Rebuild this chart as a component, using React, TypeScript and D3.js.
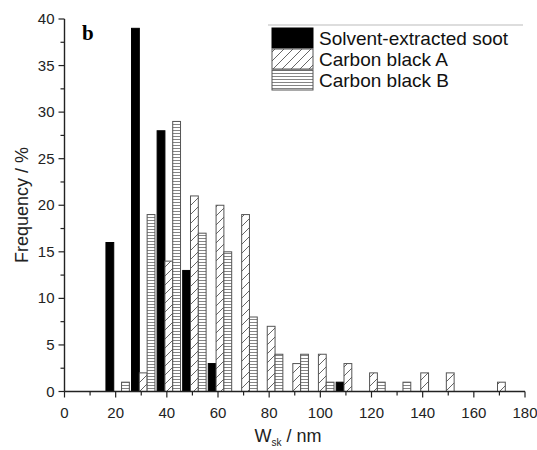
import * as d3 from 'd3'

// bin start (nm) for every group of three bars
const bins = [20, 30, 40, 50, 60, 70, 80, 90, 100, 110, 120, 130, 140, 150, 160, 170]
const sootValues = [16, 39, 28, 13, 3, 0, 0, 0, 0, 1, 0, 0, 0, 0, 0, 0]
const carbonAValues = [0, 2, 14, 21, 20, 19, 7, 3, 4, 3, 2, 0, 2, 2, 0, 1]
const carbonBValues = [1, 19, 29, 17, 15, 8, 4, 4, 1, 0, 1, 1, 0, 0, 0, 0]
const seriesNames = ['Solvent-extracted soot', 'Carbon black A', 'Carbon black B']

const xTicks = [0, 20, 40, 60, 80, 100, 120, 140, 160, 180]
const yTicks = [0, 5, 10, 15, 20, 25, 30, 35, 40]

const width = 537
const height = 450
const sans = '"Liberation Sans", Arial, sans-serif'

const fills = ['#000', 'url(#hatchA)', 'url(#hatchB)']
const strokes = ['#000', '#555', '#555']

export default function App() {
  const x = d3.scaleLinear().domain([0, 180]).range([64.5, 525])
  const y = d3.scaleLinear().domain([0, 40]).range([391.5, 19])

  // bar layout inside a group, in data units
  const barW = 3.05
  const groupStart = -3.8

  const series = [sootValues, carbonAValues, carbonBValues]

  const bars = series.flatMap((vals, si) =>
    bins.map((b, i) => {
      const v = vals[i]
      if (!v) return null
      const x0 = x(b + groupStart + si * barW)
      const x1 = x(b + groupStart + (si + 1) * barW)
      return (
        <rect
          key={`${si}-${b}`}
          x={x0}
          y={y(v)}
          width={x1 - x0}
          height={y(0) - y(v)}
          fill={fills[si]}
          stroke={strokes[si]}
          strokeWidth={1}
        />
      )
    }),
  )

  const xMinor = d3.range(0, 181, 10)
  const yMinor = d3.range(0, 40.1, 2.5)

  return (
    <svg
      width={width}
      height={height}
      style={{ position: 'absolute', left: 0, top: 0, background: '#fff' }}
    >
      <defs>
        <pattern id="hatchA" patternUnits="userSpaceOnUse" width={9} height={9}>
          <rect width={9} height={9} fill="#fff" />
          <path
            d="M0,9 L9,0 M-2,2 L2,-2 M7,11 L11,7"
            stroke="#666"
            strokeWidth={1}
          />
        </pattern>
        <pattern id="hatchB" patternUnits="userSpaceOnUse" width={4} height={3}>
          <rect width={4} height={3} fill="#fff" />
          <path d="M0,1.5 L4,1.5" stroke="#777" strokeWidth={0.9} />
        </pattern>
      </defs>

      {bars}

      {/* x axis */}
      <line x1={x(0)} x2={x(180)} y1={y(0)} y2={y(0)} stroke="#222" strokeWidth={1.4} />
      {xMinor.map((t) => (
        <line
          key={`xt${t}`}
          x1={x(t)}
          x2={x(t)}
          y1={y(0)}
          y2={y(0) + (t % 20 === 0 ? 6 : 4)}
          stroke="#222"
          strokeWidth={1.2}
        />
      ))}
      {xTicks.map((t) => (
        <text
          key={`xl${t}`}
          x={x(t)}
          y={y(0) + 26}
          textAnchor="middle"
          fontFamily={sans}
          fontSize={15}
          fill="#222"
        >
          {t}
        </text>
      ))}

      {/* y axis */}
      <line x1={x(0)} x2={x(0)} y1={y(40)} y2={y(0)} stroke="#222" strokeWidth={1.4} />
      {yMinor.map((t) => (
        <line
          key={`yt${t}`}
          x1={x(0) - (t % 5 === 0 ? 6 : 4)}
          x2={x(0)}
          y1={y(t)}
          y2={y(t)}
          stroke="#222"
          strokeWidth={1.2}
        />
      ))}
      {yTicks.map((t) => (
        <text
          key={`yl${t}`}
          x={x(0) - 10}
          y={y(t) + 5}
          textAnchor="end"
          fontFamily={sans}
          fontSize={15}
          fill="#222"
        >
          {t}
        </text>
      ))}

      {/* axis titles */}
      <text
        x={288}
        y={442}
        textAnchor="middle"
        fontFamily={sans}
        fontSize={18}
        fill="#222"
      >
        W
        <tspan fontSize={10} dy={4}>
          sk
        </tspan>
        <tspan dy={-4}> / nm</tspan>
      </text>
      <text
        transform="translate(28,205) rotate(-90)"
        textAnchor="middle"
        fontFamily={sans}
        fontSize={18}
        fill="#222"
      >
        Frequency / %
      </text>

      {/* panel letter */}
      <text
        x={82}
        y={40}
        fontFamily='"Liberation Serif", "Times New Roman", serif'
        fontWeight="bold"
        fontSize={21}
        fill="#000"
      >
        b
      </text>

      {/* legend */}
      <line x1={268} x2={523} y1={25} y2={25} stroke="#bbb" strokeWidth={1.2} />
      {seriesNames.map((name, i) => (
        <g key={name}>
          <rect
            x={272}
            y={28 + i * 21}
            width={41}
            height={20}
            fill={fills[i]}
            stroke={strokes[i]}
            strokeWidth={1}
          />
          <text
            x={319}
            y={45 + i * 21}
            fontFamily={sans}
            fontSize={19}
            fill="#111"
          >
            {name}
          </text>
        </g>
      ))}
    </svg>
  )
}
